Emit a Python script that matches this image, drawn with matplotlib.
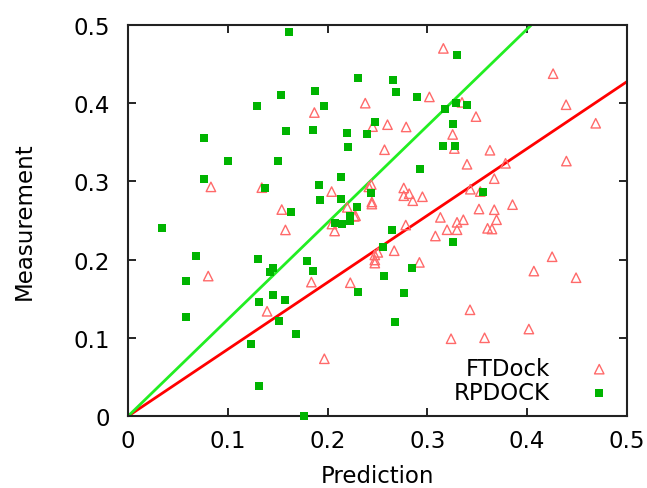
import matplotlib
matplotlib.use("Agg")
import matplotlib.pyplot as plt

# FTDock (open red triangles)
ft_x = [0.083, 0.134, 0.154, 0.1577, 0.0803, 0.1393, 0.316, 0.302, 0.2377, 0.1867,
        0.245, 0.260, 0.2787, 0.3253, 0.257, 0.327, 0.204, 0.2437, 0.2413, 0.2763,
        0.2763, 0.2817, 0.2853, 0.295, 0.2443, 0.2443, 0.2197, 0.228, 0.313, 0.2043,
        0.207, 0.2267, 0.2783, 0.3297, 0.3197, 0.3297, 0.308, 0.2503, 0.2473, 0.2473,
        0.2473, 0.2667, 0.292, 0.1837, 0.2227, 0.3237, 0.1967, 0.426, 0.3347, 0.439,
        0.3487, 0.4687, 0.3627, 0.3397, 0.3783, 0.4393, 0.367, 0.343, 0.353, 0.3853,
        0.3517, 0.367, 0.336, 0.3693, 0.3603, 0.3647, 0.425, 0.4067, 0.449, 0.3427,
        0.4017, 0.3573]
ft_y = [0.293, 0.292, 0.264, 0.238, 0.179, 0.134, 0.470, 0.408, 0.400, 0.388,
        0.370, 0.3725, 0.3696, 0.360, 0.3405, 0.342, 0.287, 0.296, 0.293, 0.2916,
        0.2817, 0.2843, 0.2753, 0.2804, 0.2737, 0.271, 0.2668, 0.256, 0.254, 0.2455,
        0.2366, 0.2553, 0.2442, 0.2477, 0.2382, 0.2382, 0.2302, 0.2093, 0.206, 0.1995,
        0.1956, 0.2114, 0.1965, 0.1713, 0.1705, 0.0989, 0.0733, 0.4377, 0.401, 0.398,
        0.3828, 0.3743, 0.3398, 0.3219, 0.3231, 0.326, 0.3035, 0.290, 0.287, 0.2703,
        0.2647, 0.2638, 0.251, 0.251, 0.240, 0.2391, 0.2037, 0.1854, 0.1769, 0.1359,
        0.1113, 0.1001]

# RPDOCK (filled green squares)
rp_x = [0.161, 0.153, 0.129, 0.158, 0.076, 0.0997, 0.150, 0.076, 0.137, 0.163,
        0.330, 0.230, 0.266, 0.187, 0.2687, 0.2897, 0.3287, 0.1967, 0.318, 0.185,
        0.2477, 0.2193, 0.239, 0.3253, 0.2203, 0.3153, 0.3277, 0.2923, 0.2133, 0.191,
        0.1927, 0.2133, 0.2437, 0.2293, 0.2227, 0.2227, 0.2073, 0.2147, 0.265, 0.3253,
        0.2553, 0.285, 0.179, 0.185, 0.256, 0.230, 0.2763, 0.2677, 0.1687, 0.1767,
        0.0337, 0.0677, 0.1303, 0.1457, 0.142, 0.058, 0.145, 0.157, 0.1307, 0.0577,
        0.1513, 0.123, 0.1317, 0.3397, 0.3553]
rp_y = [0.491, 0.410, 0.397, 0.365, 0.356, 0.326, 0.326, 0.303, 0.292, 0.261,
        0.462, 0.432, 0.430, 0.416, 0.414, 0.408, 0.400, 0.397, 0.393, 0.366,
        0.376, 0.362, 0.3606, 0.373, 0.344, 0.345, 0.345, 0.316, 0.3056, 0.295,
        0.276, 0.2775, 0.2855, 0.2668, 0.256, 0.2497, 0.2468, 0.2455, 0.2379, 0.2229,
        0.216, 0.1889, 0.1978, 0.1858, 0.1786, 0.159, 0.1573, 0.1206, 0.1045, 0.0,
        0.241, 0.205, 0.2013, 0.189, 0.184, 0.1726, 0.155, 0.149, 0.1453, 0.127,
        0.1215, 0.0917, 0.0384, 0.398, 0.2864]

# fitted lines through the origin
fit_x = [0.0, 0.5]
ft_slope = 0.855
rp_slope = 1.237

ticks = [0, 0.1, 0.2, 0.3, 0.4, 0.5]
tick_labels = ["0", "0.1", "0.2", "0.3", "0.4", "0.5"]

plt.rcParams["font.family"] = ["DejaVu Sans"]
FS = 16.5

fig = plt.figure(figsize=(6.47, 4.89), dpi=100)
ax = fig.add_axes([0.198, 0.147, 0.771, 0.800])

ax.plot(fit_x, [v * ft_slope for v in fit_x], color="#ff0000", lw=2.0, zorder=2)
ax.plot(fit_x, [v * rp_slope for v in fit_x], color="#22ee22", lw=2.0, zorder=2)

ax.scatter(ft_x, ft_y, marker="^", s=46, facecolors="none", edgecolors="#ff6a6a",
           linewidths=1.0, label="FTDock", zorder=3, clip_on=False)
ax.scatter(rp_x, rp_y, marker="s", s=30, color="#00b400", linewidths=0,
           label="RPDOCK", zorder=4, clip_on=False)

ax.set_xlim(0, 0.5)
ax.set_ylim(0, 0.5)
ax.set_xticks(ticks)
ax.set_yticks(ticks)
ax.set_xticklabels(tick_labels)
ax.set_yticklabels(tick_labels)
ax.tick_params(direction="in", length=6, width=1.2, top=True, right=True,
               labelsize=FS)
ax.tick_params(axis="x", pad=9)
ax.tick_params(axis="y", pad=13)
for sp in ax.spines.values():
    sp.set_linewidth(1.5)
    sp.set_color("#222222")

ax.set_xlabel("Prediction", fontsize=FS, labelpad=9)
ax.set_ylabel("Measurement", fontsize=FS, labelpad=27)

ax.legend(loc="lower right", frameon=False, markerfirst=False, fontsize=FS,
          handletextpad=1.65, borderaxespad=0.2, labelspacing=0.05,
          handlelength=1.0, bbox_to_anchor=(0.995, -0.005))
for t in ax.get_legend().get_texts():
    t.set_ha("right")

fig.savefig("out.png", dpi=100)
